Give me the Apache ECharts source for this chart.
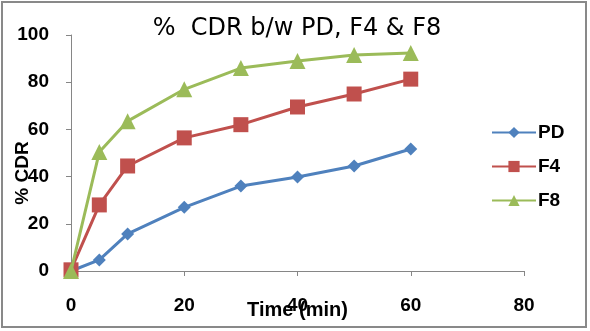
<!DOCTYPE html>
<html><head><meta charset="utf-8">
<script src="https://cdn.jsdelivr.net/npm/echarts@6/dist/echarts.min.js"></script>
<style>html,body{margin:0;padding:0;background:#fff}#c{width:590px;height:331px}</style>
</head><body><div id="c"></div>
<script>
const times = [0, 5, 10, 20, 30, 40, 50, 60];
const pd = [0, 4.7, 15.7, 27, 36, 39.8, 44.5, 51.7];
const f4 = [0.5, 28, 44.5, 56.4, 62, 69.5, 75, 81.3];
const f8 = [0, 50.4, 63.5, 77, 86, 89, 91.5, 92.4];
const seriesNames = ['PD', 'F4', 'F8'];
const colors = ['#4F81BD', '#C0504D', '#9BBB59'];
const symbols = ['diamond', 'rect', 'triangle'];
const symbolSizes = [13, 15, 16];
const dataSets = [pd, f4, f8];

const chart = echarts.init(document.getElementById('c'));
const font = 'Liberation Sans, Arial, sans-serif';
chart.setOption({
  animation: false,
  title: {
    text: '%  CDR b/w PD, F4 & F8',
    left: 292, top: 12, textAlign: 'center',
    textStyle: {fontFamily: 'DejaVu Sans', fontSize: 24, fontWeight: 'normal', color: '#000'}
  },
  graphic: [{type: 'rect', shape: {x: 2, y: 2, width: 584, height: 325},
    style: {fill: 'none', stroke: '#898989', lineWidth: 2}, silent: true}],
  legend: {
    orient: 'vertical', left: 486, top: 118, itemGap: 15, itemWidth: 44, itemHeight: 14,
    textStyle: {fontFamily: font, fontSize: 19, fontWeight: 'bold', color: '#000', padding: [0,0,0,-3]},
    data: seriesNames
  },
  grid: {left: 71, right: 66, top: 35, bottom: 60, outerBoundsMode: 'none', containLabel: false},
  xAxis: {
    type: 'value', min: 0, max: 80, interval: 20,
    name: 'Time (min)', nameLocation: 'middle', nameGap: 29, nameMoveOverlap: false,
    nameTextStyle: {fontFamily: font, fontSize: 20, fontWeight: 'bold', color: '#000'},
    axisLine: {lineStyle: {color: '#868686', width: 1}},
    axisTick: {show: true, length: 5, inside: false, lineStyle: {color: '#868686'}},
    axisLabel: {fontFamily: font, fontSize: 19, fontWeight: 'bold', color: '#000', margin: 25},
    splitLine: {show: false}
  },
  yAxis: {
    type: 'value', min: 0, max: 100, interval: 20,
    name: '% CDR', nameLocation: 'middle', nameGap: 39, nameRotate: 90, nameMoveOverlap: false,
    nameTextStyle: {fontFamily: font, fontSize: 19, fontWeight: 'bold', color: '#000', padding: [0,0,0,-40]},
    axisLine: {show: true, lineStyle: {color: '#868686', width: 1}},
    axisTick: {show: true, length: 5, lineStyle: {color: '#868686'}},
    axisLabel: {fontFamily: font, fontSize: 19, fontWeight: 'bold', color: '#000', margin: 22},
    splitLine: {show: false}
  },
  series: seriesNames.map((n, i) => ({
    name: n, type: 'line',
    data: times.map((t, j) => [t, dataSets[i][j]]),
    symbol: symbols[i], symbolSize: symbolSizes[i],
    lineStyle: {color: colors[i], width: 3},
    itemStyle: {color: colors[i]},
    z: i + 2
  }))
});
</script></body></html>
